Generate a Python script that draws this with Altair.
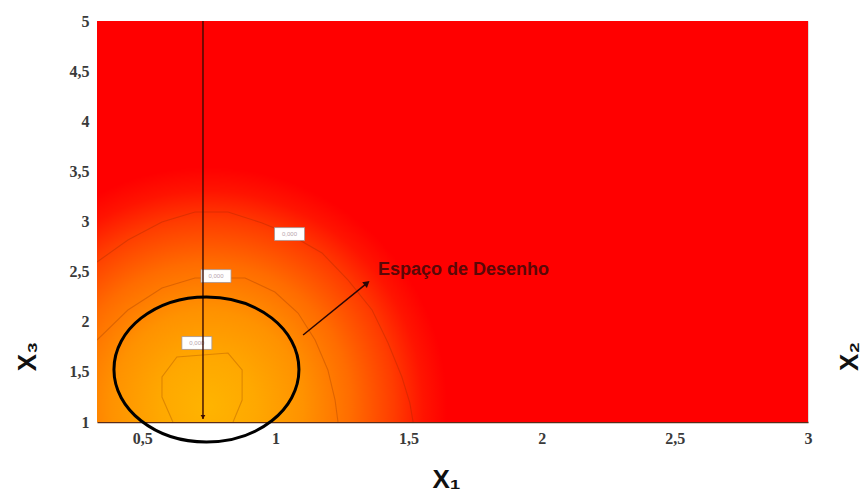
import altair as alt
import pandas as pd

# ---- axes -------------------------------------------------------------
X_DOMAIN = [0.33, 3.0]
Y_DOMAIN = [1.0, 5.0]
x_ticks = [0.5, 1.0, 1.5, 2.0, 2.5, 3.0]
y_ticks = [1.0, 1.5, 2.0, 2.5, 3.0, 3.5, 4.0, 4.5, 5.0]

# ---- response surface colour field -------------------------------------
peak_x, peak_y = 0.745, 1.15
field_dx, field_dy = 0.90, 2.39
field_offsets = [0.0, 0.2, 0.4, 0.6, 0.78, 0.9, 1.0]
field_colors = ["#FFB400", "#FFA800", "#FF9200", "#FF6C00", "#FF3C00", "#FF1400", "#FF0000"]

# ---- iso-lines of the surface -------------------------------------------
inner_x = [0.615, 0.574, 0.574, 0.630, 0.822, 0.875, 0.875, 0.841]
inner_y = [1.0, 1.249, 1.449, 1.648, 1.688, 1.519, 1.219, 1.0]
mid_x = [0.33, 0.446, 0.574, 0.698, 0.886, 0.998, 1.085, 1.149, 1.197, 1.224, 1.235]
mid_y = [1.818, 2.117, 2.337, 2.436, 2.436, 2.297, 2.087, 1.818, 1.519, 1.219, 1.0]
outer_x = [0.33, 0.446, 0.574, 0.698, 0.822, 0.950, 1.051, 1.175, 1.273, 1.363, 1.423, 1.475, 1.505, 1.517]
outer_y = [2.596, 2.815, 2.995, 3.095, 3.095, 2.985, 2.875, 2.686, 2.416, 2.117, 1.788, 1.449, 1.189, 1.0]

# iso-line value tags
tag_x = [0.705, 0.777, 1.053]
tag_y = [1.788, 2.456, 2.875]
tag_text = ["0,000", "0,000", "0,000"]

# ---- annotations ----------------------------------------------------------
cut_x = 0.728                      # vertical cut through the optimum
region_x, region_y = 0.741, 1.524  # centre of the design region
arrow_x, arrow_y = [1.104], [1.868]
arrow_x2, arrow_y2 = [1.344], [2.386]
note_x, note_y = [1.385], [2.466]
note_text = ["Espaço de Desenho"]

xscale = alt.Scale(domain=X_DOMAIN, nice=False, zero=False)
yscale = alt.Scale(domain=Y_DOMAIN, nice=False, zero=False)
DARK = "#3a0c02"

comma = "replace(toString(datum.value), '.', ',')"
TICK_FONT = dict(labelFont="Liberation Serif", labelFontWeight="bold", labelFontSize=16,
                 labelColor="#3a3a3a", labelFlush=False, labelOverlap=False)
TITLE_FONT = dict(titleFont="Liberation Sans", titleFontSize=26, titleFontWeight="bold",
                  titleColor="#111111", titleAlign="center", titleBaseline="alphabetic")


def xq(field):
    return alt.X(field, type="quantitative", scale=xscale, axis=None)


def yq(field):
    return alt.Y(field, type="quantitative", scale=yscale, axis=None)


# background plane with the main axes
bg = alt.Chart(pd.DataFrame({"x": [X_DOMAIN[0]], "x2": [X_DOMAIN[1]],
                             "y": [Y_DOMAIN[0]], "y2": [Y_DOMAIN[1]]})).mark_rect(
    color="#FF0000"
).encode(
    x=alt.X("x:Q", scale=xscale, axis=alt.Axis(
        orient="bottom", values=x_ticks, labelExpr=comma, ticks=False, grid=False,
        domain=True, domainColor="#5a2c18", domainWidth=1.5, labelPadding=8,
        title="X₁", titleX=349, titleY=65, titleAngle=0, **TICK_FONT, **TITLE_FONT)),
    x2="x2:Q",
    y=alt.Y("y:Q", scale=yscale, axis=alt.Axis(
        orient="left", values=y_ticks, labelExpr=comma, ticks=False, grid=False,
        domain=False, labelPadding=8,
        title="X₃", titleX=-62, titleY=335, titleAngle=270, **TICK_FONT, **TITLE_FONT)),
    y2="y2:Q",
)

# smooth colour field around the optimum
gradient = alt.RadialGradient(
    gradient="radial",
    stops=[alt.GradientStop(offset=o, color=c) for o, c in zip(field_offsets, field_colors)],
    x1=0.5, y1=0.5, r1=0, x2=0.5, y2=0.5, r2=0.5,
)
field = alt.Chart(pd.DataFrame({
    "x": [peak_x - field_dx], "x2": [peak_x + field_dx],
    "y": [peak_y - field_dy], "y2": [peak_y + field_dy],
})).mark_rect(color=gradient, clip=True).encode(
    x=xq("x"), x2="x2:Q", y=yq("y"), y2="y2:Q"
)

# iso-lines
rows = []
for name, xs, ys in (("inner", inner_x, inner_y), ("mid", mid_x, mid_y), ("outer", outer_x, outer_y)):
    for i, (a, b) in enumerate(zip(xs, ys)):
        rows.append({"level": name, "order": i, "x": a, "y": b})
iso = alt.Chart(pd.DataFrame(rows)).mark_line(
    color="#7a2400", opacity=0.25, strokeWidth=1.1, clip=True
).encode(x=xq("x"), y=yq("y"), detail="level:N", order="order:Q")

# value tags on the iso-lines
tag_df = pd.DataFrame({"x": tag_x, "y": tag_y, "t": tag_text})
TAG_PATH = "M -1 -0.43 L 1 -0.43 L 1 0.43 L -1 0.43 Z"
tags = alt.Chart(tag_df).mark_point(
    shape=TAG_PATH, size=900, filled=True, fill="white", stroke="#a59595",
    strokeWidth=0.8, opacity=1
).encode(x=xq("x"), y=yq("y"))
tag_labels = alt.Chart(tag_df).mark_text(
    fontSize=6, color="#b8a4ac", font="Liberation Sans"
).encode(x=xq("x"), y=yq("y"), text="t:N")

# vertical cut line with its arrow tip
cut = alt.Chart(pd.DataFrame({"x": [cut_x], "y": [1.03], "y2": [Y_DOMAIN[1]]})).mark_rule(
    color=DARK, strokeWidth=1.4
).encode(x=xq("x"), y=yq("y"), y2="y2:Q")
cut_tip = alt.Chart(pd.DataFrame({"x": [cut_x], "y": [1.05]})).mark_point(
    shape="triangle-down", size=22, filled=True, color=DARK, opacity=1
).encode(x=xq("x"), y=yq("y"))

# design region outline
K = 0.5523
E = 0.784
ELLIPSE_PATH = (
    f"M -1 0 C -1 {-E*K:.4f} {-K:.4f} {-E} 0 {-E} "
    f"C {K:.4f} {-E} 1 {-E*K:.4f} 1 0 "
    f"C 1 {E*K:.4f} {K:.4f} {E} 0 {E} "
    f"C {-K:.4f} {E} -1 {E*K:.4f} -1 0 Z"
)
region = alt.Chart(pd.DataFrame({"x": [region_x], "y": [region_y]})).mark_point(
    shape=ELLIPSE_PATH, size=185 ** 2, filled=False, color="black",
    strokeWidth=3, opacity=1
).encode(x=xq("x"), y=yq("y"))

# arrow towards the label
arrow_df = pd.DataFrame({"x": arrow_x, "y": arrow_y, "x2": arrow_x2, "y2": arrow_y2})
arrow = alt.Chart(arrow_df).mark_rule(color="#2b0505", strokeWidth=1.5).encode(
    x=xq("x"), y=yq("y"), x2="x2:Q", y2="y2:Q"
)
arrow_tip = alt.Chart(pd.DataFrame({"x": arrow_x2, "y": arrow_y2})).mark_point(
    shape="triangle-up", angle=51, size=55, filled=True, color="#2b0505", opacity=1
).encode(x=xq("x"), y=yq("y"))

note = alt.Chart(pd.DataFrame({"x": note_x, "y": note_y, "t": note_text})).mark_text(
    align="left", baseline="alphabetic", font="Liberation Sans", fontWeight="bold",
    fontSize=18, color="#5a0808"
).encode(x=xq("x"), y=yq("y"), text="t:N")

# right-hand axis carrying the X2 label
right = alt.Chart(pd.DataFrame({"y": y_ticks})).mark_point(opacity=0).encode(
    y=alt.Y("y:Q", scale=yscale, axis=alt.Axis(
        orient="right", labels=False, ticks=False, domain=False, grid=False,
        title="X₂", titleX=49, titleY=335, titleAngle=270, **TITLE_FONT))
)

chart = alt.layer(
    bg, field, iso, tags, tag_labels, cut, cut_tip, region, arrow, arrow_tip, note, right
).resolve_axis(x="independent", y="independent").properties(
    width=711, height=401,
    autosize=alt.AutoSizeParams(type="none"),
    padding={"left": 97, "top": 21, "right": 55, "bottom": 74},
).configure_view(strokeWidth=0).configure(background="white")

chart.save("out.html", embed_options={"renderer": "svg", "actions": False})
